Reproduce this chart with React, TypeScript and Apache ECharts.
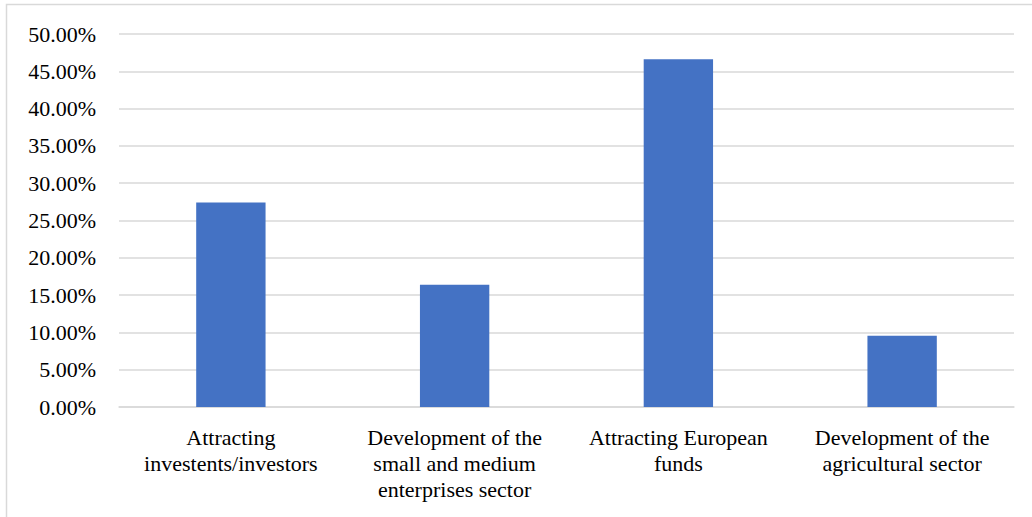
import React, { useEffect, useRef } from "react";
import * as echarts from "echarts";

const categories = [
  "Attracting\ninvestents/investors",
  "Development of the\nsmall and medium\nenterprises sector",
  "Attracting European\nfunds",
  "Development of the\nagricultural sector",
];
const values = [27.4, 16.4, 46.6, 9.55];
const yMin = 0;
const yMax = 50;
const yStep = 5;

export default function App() {
  const ref = useRef<HTMLDivElement>(null);
  useEffect(() => {
    document.body.style.margin = "0";
    const chart = echarts.init(ref.current!, null, { renderer: "svg" });
    const font = "Times New Roman, Liberation Serif, serif";
    chart.setOption({
      animation: false,
      backgroundColor: "#ffffff",
      textStyle: { fontFamily: font },
      grid: { left: 119, right: 18, top: 34, bottom: 110, containLabel: false },
      graphic: [
        {
          type: "rect",
          shape: { x: 6.5, y: 4.5, width: 1100, height: 600 },
          style: { fill: "none", stroke: "#D9D9D9", lineWidth: 1.5 },
          silent: true,
        },
      ],
      xAxis: {
        type: "category",
        data: categories,
        axisLine: { show: true, lineStyle: { color: "#D9D9D9", width: 1.5 } },
        axisTick: { show: false },
        axisLabel: {
          interval: 0,
          color: "#000000",
          fontFamily: font,
          fontSize: 22,
          lineHeight: 26,
          margin: 17,
        },
      },
      yAxis: {
        type: "value",
        min: yMin,
        max: yMax,
        interval: yStep,
        axisLine: { show: false },
        axisTick: { show: false },
        splitLine: { lineStyle: { color: "#D9D9D9", width: 1.5 } },
        axisLabel: {
          color: "#000000",
          fontFamily: font,
          fontSize: 22,
          margin: 23,
          formatter: (v: number) => v.toFixed(2) + "%",
        },
      },
      series: [
        {
          type: "bar",
          data: values,
          barWidth: "31%",
          itemStyle: { color: "#4472C4" },
        },
      ],
    });
    return () => chart.dispose();
  }, []);
  return (
    <div
      ref={ref}
      style={{ position: "fixed", left: 0, top: 0, width: 1032, height: 517 }}
    />
  );
}
